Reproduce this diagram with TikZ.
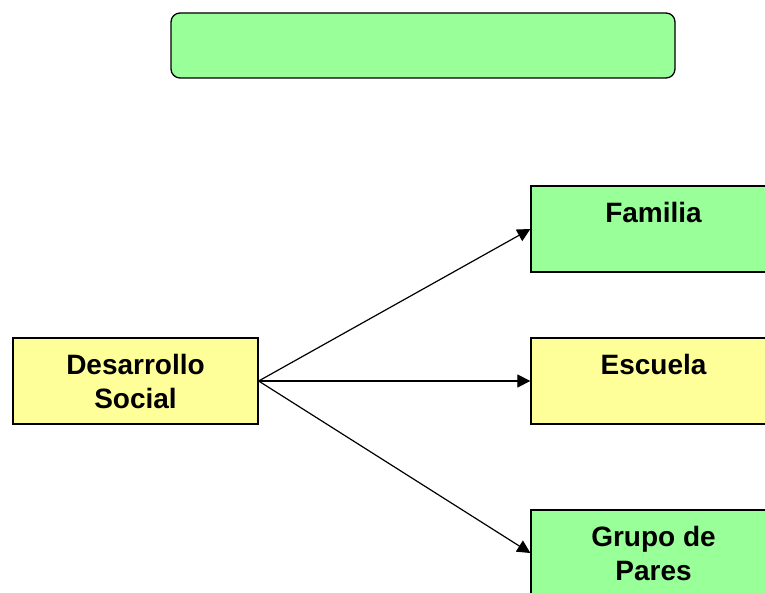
\documentclass[tikz,border=0pt]{standalone}
\usepackage{fontspec}
\setmainfont{Liberation Sans}
\usetikzlibrary{arrows.meta,positioning}
\definecolor{verde}{HTML}{99FF99}
\definecolor{amarillo}{HTML}{FFFF99}

\begin{document}
\begin{tikzpicture}[x=1pt, y=-1pt, >={Triangle[length=13pt,width=13pt]}]
    \tikzset{caja/.style={draw, line width=1.3pt, minimum width=245pt,
        minimum height=86pt, inner sep=0pt, align=center,
        font=\fontsize{28}{34}\selectfont\bfseries}}
    \tikzset{flecha/.style={->, line width=1.2pt}}
    \clip (0,0) rectangle (765,593);
    \node[caja, fill=verde, rounded corners=9pt, minimum width=504pt,
        minimum height=65pt] (titulo) at (423,45.5) {};
    \node[caja, fill=amarillo] (social) at (135.5,381) {Desarrollo\\Social};
    \node[caja, fill=verde] (familia) at (653.5,229) {Familia\\\mbox{}};
    \node[caja, fill=amarillo] (escuela) at (653.5,381) {Escuela\\\mbox{}};
    \node[caja, fill=verde] (pares) at (653.5,553) {Grupo de\\Pares};
    \draw[flecha] (social.east) -- (familia.west);
    \draw[flecha] (social.east) -- (escuela.west);
    \draw[flecha] (social.east) -- (pares.west);
\end{tikzpicture}
\end{document}
